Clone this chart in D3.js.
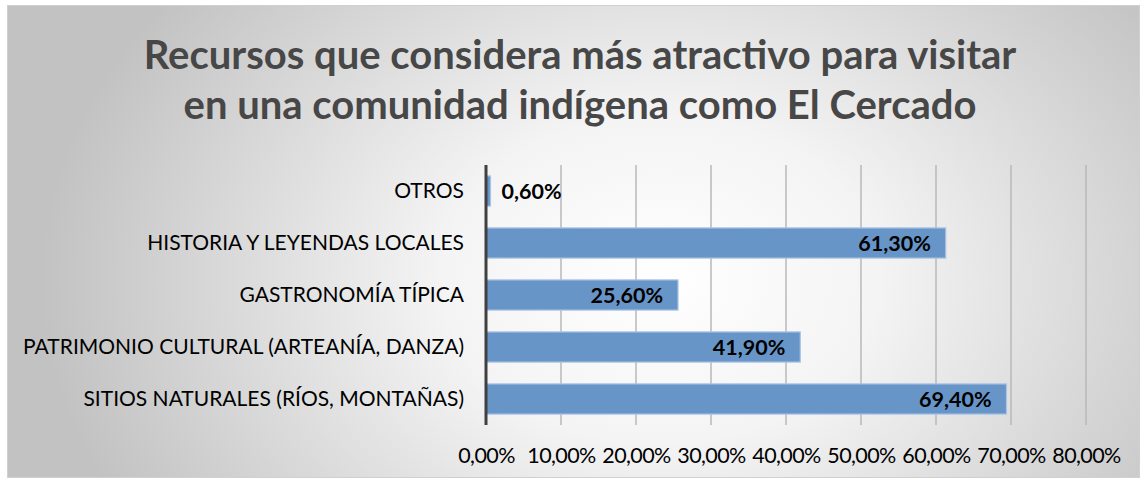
<!DOCTYPE html>
<html><head><meta charset="utf-8">
<script src="https://cdn.jsdelivr.net/npm/d3@7"></script>
<style>body{margin:0;background:#fff;}svg{display:block;}</style>
</head><body>
<script>
const categories = ["OTROS","HISTORIA Y LEYENDAS LOCALES","GASTRONOMÍA TÍPICA","PATRIMONIO CULTURAL (ARTEANÍA, DANZA)","SITIOS NATURALES (RÍOS, MONTAÑAS)"];
const values = [0.006, 0.613, 0.256, 0.419, 0.694];
const valueLabels = ["0,60%","61,30%","25,60%","41,90%","69,40%"];
const tickValues = [0,0.1,0.2,0.3,0.4,0.5,0.6,0.7,0.8];
const tickLabels = ["0,00%","10,00%","20,00%","30,00%","40,00%","50,00%","60,00%","70,00%","80,00%"];
const titleLines = ["Recursos que considera más atractivo para visitar","en una comunidad indígena como El Cercado"];

const W=1146,H=483;
const svg=d3.select("body").append("svg").attr("width",W).attr("height",H);
const defs=svg.append("defs");
const rg=defs.append("radialGradient").attr("id","bg").attr("gradientUnits","userSpaceOnUse")
  .attr("cx",660).attr("cy",280).attr("r",620).attr("fx",660).attr("fy",280)
  .attr("gradientTransform","translate(660,280) scale(1,0.75) translate(-660,-280)");
rg.append("stop").attr("offset","0").attr("stop-color","#ffffff");
rg.append("stop").attr("offset","0.35").attr("stop-color","#f4f4f4");
rg.append("stop").attr("offset","1").attr("stop-color","#c2c2c2");

svg.append("rect").attr("x",7.5).attr("y",5.5).attr("width",1132).attr("height",472)
  .attr("fill","url(#bg)").attr("stroke","#d0d0d0").attr("stroke-width",1);

const x=d3.scaleLinear().domain([0,0.8]).range([486,1086]);
const y=d3.scaleBand().domain(categories).range([165,425]).paddingInner(0.42).paddingOuter(0.21);

const FF="Lato, 'Open Sans', sans-serif";

// gridlines
svg.append("g").selectAll("line").data(tickValues.slice(1)).join("line")
  .attr("x1",d=>x(d)).attr("x2",d=>x(d)).attr("y1",165).attr("y2",425)
  .attr("stroke","#b8b8b8").attr("stroke-width",1.5);

// bars
svg.append("g").selectAll("rect").data(values).join("rect")
  .attr("x",x(0)).attr("y",(d,i)=>y(categories[i]))
  .attr("width",d=>x(d)-x(0)).attr("height",y.bandwidth())
  .attr("fill","#6895c8").attr("stroke","#a9c4e4").attr("stroke-width",1.2);

// axis line
svg.append("line").attr("x1",x(0)).attr("x2",x(0)).attr("y1",165).attr("y2",425)
  .attr("stroke","#404040").attr("stroke-width",3);

// x tick labels via axis
const xAxis=d3.axisBottom(x).tickValues(tickValues).tickFormat((d,i)=>tickLabels[i]).tickSize(0).tickPadding(0);
const gx=svg.append("g").attr("transform","translate(0,455)").call(xAxis);
gx.select(".domain").remove();
gx.selectAll("text").attr("font-family",FF).attr("font-size",21.5)
  .attr("fill","#000").attr("dy","0.35em").attr("letter-spacing","-0.6");

// y labels
const yAxis=d3.axisLeft(y).tickSize(0).tickPadding(0);
const gy=svg.append("g").attr("transform","translate(464,0)").call(yAxis);
gy.select(".domain").remove();
gy.selectAll("text").attr("font-family",FF).attr("font-size",21)
  .attr("fill","#000").attr("dy","0.35em");

// value labels
svg.append("g").selectAll("text").data(values).join("text")
  .attr("x",(d,i)=>i===0? x(d)+11 : x(d)-15)
  .attr("y",(d,i)=>y(categories[i])+y.bandwidth()/2)
  .attr("dy","0.35em")
  .attr("text-anchor",(d,i)=>i===0?"start":"end")
  .attr("font-family",FF).attr("font-weight","bold").attr("font-size",21.5)
  .attr("fill","#000").text((d,i)=>valueLabels[i]);

// title
svg.append("g").selectAll("text").data(titleLines).join("text")
  .attr("x",580).attr("y",(d,i)=>69+i*50).attr("text-anchor","middle")
  .attr("font-family",FF).attr("font-weight","bold").attr("font-size",40)
  .attr("fill","#474747").text(d=>d);
</script>
</body></html>
